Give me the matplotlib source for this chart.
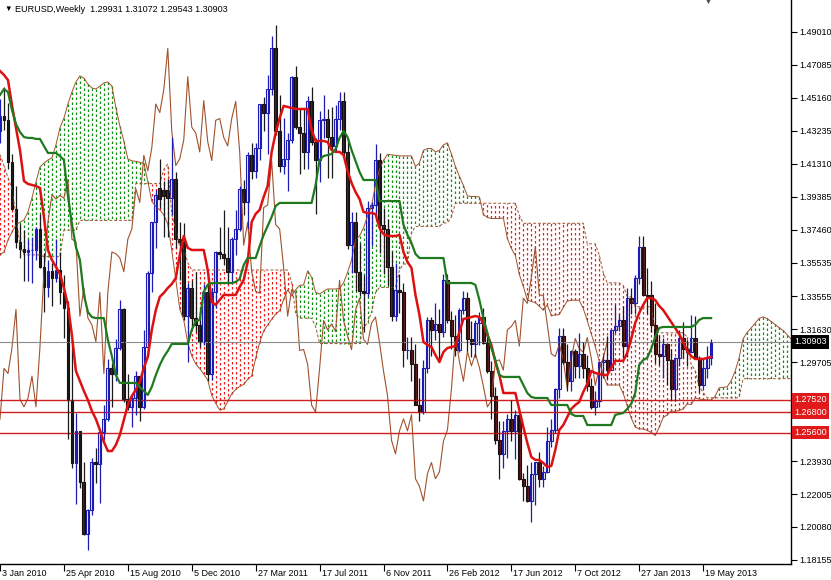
import numpy as np
import matplotlib.pyplot as plt
from matplotlib.transforms import blended_transform_factory, ScaledTranslation

plt.rcParams['font.family'] = ['Liberation Sans', 'DejaVu Sans']

# weekly EURUSD bars, 3 Jan 2010 .. 2 Jun 2013 (one value per week)
opens = [
    1.4320, 1.4410, 1.4385, 1.4140, 1.3865, 1.3675, 1.3630, 1.3615, 1.3625, 1.3625,
    1.3750, 1.3530, 1.3410, 1.3505, 1.3465, 1.3510, 1.3380, 1.3290, 1.2750, 1.2380,
    1.2570, 1.2270, 1.1965, 1.2110, 1.2390, 1.2375, 1.2565, 1.2640, 1.2935, 1.2905,
    1.3055, 1.3280, 1.2755, 1.2710, 1.2760, 1.2890, 1.2710, 1.3060, 1.3495, 1.3790,
    1.3990, 1.3975, 1.3975, 1.3930, 1.4040, 1.3690, 1.3675, 1.3240, 1.3405, 1.3230,
    1.3190, 1.3090, 1.3380, 1.2905, 1.3380, 1.3615, 1.3605, 1.3580, 1.3500, 1.3690,
    1.3750, 1.3985, 1.3905, 1.4180, 1.4090, 1.4225, 1.4480, 1.4430, 1.4565, 1.4805,
    1.4320, 1.4120, 1.4160, 1.4270, 1.4640, 1.4345, 1.4310, 1.4200, 1.4500, 1.4260,
    1.4150, 1.4385, 1.4395, 1.4285, 1.4235, 1.4395, 1.4495, 1.4200, 1.3655, 1.3790,
    1.3500, 1.3385, 1.3375, 1.3875, 1.3890, 1.4150, 1.3775, 1.3750, 1.3525, 1.3240,
    1.3395, 1.3380, 1.3040, 1.3045, 1.2960, 1.2720, 1.2680, 1.2935, 1.3215, 1.3160,
    1.3195, 1.3150, 1.3450, 1.3215, 1.3125, 1.3045, 1.3275, 1.3345, 1.3105, 1.3075,
    1.3200, 1.3235, 1.3085, 1.2920, 1.2775, 1.2515, 1.2435, 1.2570, 1.2640, 1.2570,
    1.2665, 1.2290, 1.2245, 1.2160, 1.2320, 1.2385, 1.2290, 1.2330, 1.2510, 1.2575,
    1.2815, 1.3125, 1.2975, 1.2860, 1.3035, 1.2950, 1.3020, 1.2940, 1.2830, 1.2710,
    1.2745, 1.2975, 1.2985, 1.2925, 1.3160, 1.3180, 1.3215, 1.3065, 1.3345, 1.3315,
    1.3465, 1.3645, 1.3365, 1.3365, 1.3190, 1.3020, 1.3005, 1.3075, 1.2985, 1.2815,
    1.2995, 1.3110, 1.3050, 1.3030, 1.3115, 1.2995, 1.2835, 1.2935, 1.29931,
]
highs = [
    1.4510, 1.4580, 1.4485, 1.4190, 1.4000, 1.3780, 1.3745, 1.3690, 1.3705, 1.3760,
    1.3840, 1.3610, 1.3570, 1.3550, 1.3690, 1.3615, 1.3480, 1.3330, 1.3095, 1.2675,
    1.2570, 1.2385, 1.2115, 1.2410, 1.2470, 1.2570, 1.2720, 1.2990, 1.2965, 1.3105,
    1.3335, 1.3290, 1.2900, 1.2780, 1.2920, 1.2890, 1.3160, 1.3505, 1.3790, 1.3975,
    1.4160, 1.4030, 1.4040, 1.4285, 1.4080, 1.3790, 1.3785, 1.3435, 1.3450, 1.3500,
    1.3285, 1.3430, 1.3435, 1.3405, 1.3620, 1.3760, 1.3860, 1.3760, 1.3700, 1.3860,
    1.4000, 1.4035, 1.4200, 1.4250, 1.4250, 1.4480, 1.4520, 1.4650, 1.4880, 1.4940,
    1.4530, 1.4400, 1.4310, 1.4645, 1.4700, 1.4450, 1.4450, 1.4525, 1.4580, 1.4280,
    1.4440, 1.4530, 1.4450, 1.4460, 1.4475, 1.4550, 1.4550, 1.4280, 1.3850, 1.3850,
    1.3670, 1.3480, 1.3915, 1.3910, 1.4245, 1.4195, 1.3875, 1.3810, 1.3620, 1.3550,
    1.3485, 1.3435, 1.3120, 1.3120, 1.3080, 1.2880, 1.2985, 1.3235, 1.3235, 1.3320,
    1.3280, 1.3485, 1.3485, 1.3270, 1.3245, 1.3290, 1.3385, 1.3380, 1.3210, 1.3215,
    1.3265, 1.3285, 1.3145, 1.2980, 1.2825, 1.2625, 1.2625, 1.2670, 1.2750, 1.2690,
    1.2690, 1.2325, 1.2370, 1.2390, 1.2390, 1.2445, 1.2365, 1.2590, 1.2640, 1.2820,
    1.3170, 1.3170, 1.3080, 1.3045, 1.3050, 1.3140, 1.3090, 1.3015, 1.2880, 1.2800,
    1.2975, 1.3015, 1.3125, 1.3165, 1.3310, 1.3255, 1.3300, 1.3405, 1.3405, 1.3480,
    1.3710, 1.3710, 1.3520, 1.3445, 1.3320, 1.3130, 1.3110, 1.3075, 1.3050, 1.3000,
    1.3160, 1.3205, 1.3100, 1.3245, 1.3240, 1.3010, 1.2995, 1.3065, 1.31072,
]
lows = [
    1.4255, 1.4330, 1.4100, 1.3860, 1.3640, 1.3580, 1.3445, 1.3445, 1.3435, 1.3570,
    1.3520, 1.3265, 1.3350, 1.3300, 1.3440, 1.3310, 1.3115, 1.2520, 1.2355, 1.2145,
    1.2235, 1.1960, 1.1875, 1.2080, 1.2265, 1.2150, 1.2515, 1.2625, 1.2710, 1.2860,
    1.3040, 1.2740, 1.2690, 1.2590, 1.2660, 1.2630, 1.2700, 1.3010, 1.3380, 1.3640,
    1.3875, 1.3700, 1.3700, 1.3830, 1.3640, 1.3450, 1.3215, 1.2970, 1.3170, 1.3150,
    1.3060, 1.3070, 1.2860, 1.2870, 1.3285, 1.3575, 1.3540, 1.3430, 1.3430, 1.3600,
    1.3735, 1.3830, 1.3750, 1.4040, 1.4050, 1.4150, 1.4320, 1.4190, 1.4530, 1.4300,
    1.4080, 1.4070, 1.3970, 1.4255, 1.4335, 1.4070, 1.4100, 1.4100, 1.4240, 1.3835,
    1.4025, 1.4280, 1.4050, 1.4050, 1.4200, 1.4330, 1.4170, 1.3630, 1.3495, 1.3385,
    1.3360, 1.3145, 1.3350, 1.3650, 1.3825, 1.3610, 1.3485, 1.3420, 1.3210, 1.3210,
    1.3260, 1.2945, 1.2990, 1.2860, 1.2720, 1.2625, 1.2670, 1.2910, 1.3005, 1.3100,
    1.2975, 1.3120, 1.3200, 1.3050, 1.3005, 1.3030, 1.3250, 1.3035, 1.3000, 1.3000,
    1.3070, 1.3080, 1.2910, 1.2640, 1.2495, 1.2290, 1.2355, 1.2410, 1.2510, 1.2405,
    1.2285, 1.2160, 1.2155, 1.2040, 1.2135, 1.2240, 1.2240, 1.2325, 1.2475, 1.2560,
    1.2760, 1.2960, 1.2805, 1.2800, 1.2880, 1.2880, 1.2880, 1.2800, 1.2700, 1.2660,
    1.2710, 1.2880, 1.2875, 1.2925, 1.3140, 1.3155, 1.2995, 1.3000, 1.3255, 1.3255,
    1.3430, 1.3360, 1.3255, 1.3145, 1.2965, 1.2955, 1.2880, 1.2840, 1.2750, 1.2745,
    1.2950, 1.2995, 1.2950, 1.3030, 1.2990, 1.2795, 1.2810, 1.2880, 1.29543,
]
closes = [
    1.4410, 1.4385, 1.4140, 1.3865, 1.3675, 1.3630, 1.3615, 1.3625, 1.3625, 1.3750,
    1.3530, 1.3410, 1.3505, 1.3465, 1.3510, 1.3380, 1.3290, 1.2750, 1.2380, 1.2570,
    1.2270, 1.1965, 1.2110, 1.2390, 1.2375, 1.2565, 1.2640, 1.2935, 1.2905, 1.3055,
    1.3280, 1.2755, 1.2710, 1.2760, 1.2890, 1.2710, 1.3060, 1.3495, 1.3790, 1.3950,
    1.3925, 1.3945, 1.3930, 1.4040, 1.3690, 1.3675, 1.3240, 1.3405, 1.3230, 1.3190,
    1.3090, 1.3380, 1.2905, 1.3380, 1.3615, 1.3605, 1.3580, 1.3500, 1.3690, 1.3750,
    1.3985, 1.3905, 1.4180, 1.4090, 1.4225, 1.4480, 1.4430, 1.4565, 1.4805, 1.4320,
    1.4120, 1.4160, 1.4270, 1.4640, 1.4345, 1.4310, 1.4200, 1.4500, 1.4260, 1.4150,
    1.4385, 1.4395, 1.4285, 1.4235, 1.4395, 1.4495, 1.4200, 1.3655, 1.3790, 1.3500,
    1.3385, 1.3375, 1.3875, 1.3890, 1.4150, 1.3775, 1.3750, 1.3525, 1.3240, 1.3395,
    1.3380, 1.3040, 1.3045, 1.2960, 1.2720, 1.2680, 1.2935, 1.3215, 1.3160, 1.3195,
    1.3150, 1.3450, 1.3215, 1.3125, 1.3045, 1.3275, 1.3345, 1.3105, 1.3075, 1.3200,
    1.3235, 1.3085, 1.2920, 1.2775, 1.2515, 1.2435, 1.2570, 1.2640, 1.2570, 1.2665,
    1.2290, 1.2245, 1.2160, 1.2320, 1.2385, 1.2290, 1.2330, 1.2510, 1.2575, 1.2815,
    1.3125, 1.2975, 1.2860, 1.3035, 1.2950, 1.3020, 1.2940, 1.2830, 1.2710, 1.2745,
    1.2975, 1.2985, 1.2925, 1.3160, 1.3180, 1.3215, 1.3065, 1.3345, 1.3315, 1.3465,
    1.3645, 1.3365, 1.3360, 1.3190, 1.3020, 1.3005, 1.3075, 1.2985, 1.2815, 1.2995,
    1.3110, 1.3050, 1.3030, 1.3115, 1.2995, 1.2835, 1.2935, 1.2995, 1.30903,
]

# ichimoku lines
tenkan = [
    1.4673, 1.4650, 1.4620, 1.4474, 1.4340, 1.4211, 1.4030, 1.4013, 1.4007, 1.4001,
    1.3989, 1.3820, 1.3627, 1.3569, 1.3528, 1.3487, 1.3405, 1.3306, 1.3130, 1.2920,
    1.2862, 1.2803, 1.2750, 1.2686, 1.2639, 1.2575, 1.2505, 1.2452, 1.2452, 1.2487,
    1.2546, 1.2633, 1.2721, 1.2774, 1.2809, 1.2856, 1.2938, 1.3002, 1.3160, 1.3276,
    1.3353, 1.3376, 1.3405, 1.3428, 1.3463, 1.3598, 1.3709, 1.3639, 1.3627, 1.3627,
    1.3627, 1.3627, 1.3510, 1.3323, 1.3306, 1.3335, 1.3364, 1.3364, 1.3364, 1.3364,
    1.3411, 1.3452, 1.3557, 1.3791, 1.3838, 1.3861, 1.3937, 1.4001, 1.4200, 1.4311,
    1.4398, 1.4469, 1.4463, 1.4457, 1.4451, 1.4451, 1.4451, 1.4451, 1.4328, 1.4264,
    1.4264, 1.4264, 1.4258, 1.4211, 1.4200, 1.4200, 1.4182, 1.4089, 1.4019, 1.3966,
    1.3925, 1.3849, 1.3843, 1.3843, 1.3837, 1.3755, 1.3720, 1.3709, 1.3709, 1.3709,
    1.3715, 1.3615, 1.3557, 1.3522, 1.3364, 1.3247, 1.3089, 1.3072, 1.3060, 1.3013,
    1.2972, 1.3031, 1.3054, 1.3060, 1.3066, 1.3148, 1.3224, 1.3229, 1.3235, 1.3241,
    1.3235, 1.3200, 1.3130, 1.3072, 1.2972, 1.2896, 1.2791, 1.2791, 1.2791, 1.2791,
    1.2692, 1.2593, 1.2499, 1.2417, 1.2400, 1.2400, 1.2382, 1.2359, 1.2365, 1.2458,
    1.2575, 1.2604, 1.2651, 1.2698, 1.2721, 1.2739, 1.2797, 1.2844, 1.2920, 1.2908,
    1.2902, 1.2896, 1.2896, 1.2938, 1.2979, 1.2979, 1.2979, 1.3025, 1.3107, 1.3200,
    1.3259, 1.3306, 1.3346, 1.3346, 1.3335, 1.3300, 1.3276, 1.3241, 1.3206, 1.3171,
    1.3136, 1.3089, 1.3037, 1.3007, 1.2990, 1.2990, 1.2990, 1.2996, 1.3002,
]
kijun = [
    1.4533, 1.4568, 1.4550, 1.4445, 1.4363, 1.4317, 1.4287, 1.4282, 1.4282, 1.4276,
    1.4276, 1.4235, 1.4194, 1.4194, 1.4194, 1.4176, 1.4153, 1.3943, 1.3779, 1.3645,
    1.3569, 1.3364, 1.3265, 1.3235, 1.3229, 1.3229, 1.3229, 1.3101, 1.3007, 1.2896,
    1.2850, 1.2850, 1.2850, 1.2850, 1.2850, 1.2827, 1.2803, 1.2780, 1.2827, 1.2896,
    1.2955, 1.3002, 1.3037, 1.3078, 1.3078, 1.3078, 1.3078, 1.3078, 1.3160, 1.3212,
    1.3218, 1.3382, 1.3423, 1.3434, 1.3434, 1.3434, 1.3434, 1.3434, 1.3434, 1.3440,
    1.3458, 1.3539, 1.3580, 1.3580, 1.3580, 1.3650, 1.3715, 1.3767, 1.3820, 1.3884,
    1.3902, 1.3902, 1.3902, 1.3902, 1.3902, 1.3902, 1.3902, 1.3902, 1.3902, 1.4007,
    1.4153, 1.4176, 1.4182, 1.4188, 1.4217, 1.4282, 1.4323, 1.4287, 1.4211, 1.4147,
    1.4083, 1.4036, 1.4036, 1.4036, 1.4036, 1.3913, 1.3913, 1.3913, 1.3913, 1.3913,
    1.3913, 1.3773, 1.3715, 1.3668, 1.3604, 1.3580, 1.3580, 1.3580, 1.3580, 1.3580,
    1.3580, 1.3580, 1.3434, 1.3434, 1.3434, 1.3434, 1.3434, 1.3434, 1.3434, 1.3423,
    1.3335, 1.3229, 1.3142, 1.3054, 1.2984, 1.2896, 1.2885, 1.2885, 1.2885, 1.2885,
    1.2885, 1.2838, 1.2791, 1.2768, 1.2762, 1.2762, 1.2762, 1.2762, 1.2721, 1.2721,
    1.2721, 1.2721, 1.2721, 1.2669, 1.2657, 1.2657, 1.2657, 1.2604, 1.2604, 1.2604,
    1.2604, 1.2604, 1.2604, 1.2604, 1.2663, 1.2669, 1.2674, 1.2698, 1.2727, 1.2791,
    1.2955, 1.2984, 1.2996, 1.3049, 1.3119, 1.3171, 1.3177, 1.3177, 1.3177, 1.3177,
    1.3177, 1.3177, 1.3177, 1.3177, 1.3189, 1.3218, 1.3229, 1.3229, 1.3229,
]
# senkou spans, already placed 26 weeks ahead (205 weeks)
span_a = [
    1.3598, 1.3615, 1.3685, 1.3732, 1.3773, 1.3790, 1.3802, 1.3849, 1.3931, 1.4024,
    1.4112, 1.4135, 1.4153, 1.4165, 1.4241, 1.4340, 1.4398, 1.4480, 1.4550, 1.4609,
    1.4644, 1.4632, 1.4597, 1.4574, 1.4568, 1.4585,
    1.4603, 1.4609, 1.4585, 1.4460, 1.4352, 1.4264, 1.4159, 1.4148, 1.4145, 1.4139,
    1.4133, 1.4028, 1.3911, 1.3882, 1.3861, 1.3832, 1.3779, 1.3625, 1.3455, 1.3283,
    1.3216, 1.3084, 1.3008, 1.2961, 1.2934, 1.2902, 1.2867, 1.2777, 1.2730, 1.2692,
    1.2698, 1.2742, 1.2786, 1.2812, 1.2830, 1.2842, 1.2871, 1.2891, 1.2994, 1.3086,
    1.3154, 1.3189, 1.3221, 1.3253, 1.3271, 1.3338, 1.3394, 1.3359, 1.3394, 1.3420,
    1.3423, 1.3505, 1.3467, 1.3379, 1.3370, 1.3385, 1.3399, 1.3399, 1.3399, 1.3402,
    1.3435, 1.3496, 1.3569, 1.3686, 1.3709, 1.3756, 1.3826, 1.3884, 1.4010, 1.4098,
    1.4150, 1.4186, 1.4183, 1.4180, 1.4177, 1.4177, 1.4177, 1.4177, 1.4115, 1.4136,
    1.4209, 1.4220, 1.4220, 1.4200, 1.4209, 1.4241, 1.4253, 1.4188, 1.4115, 1.4057,
    1.4004, 1.3943, 1.3940, 1.3940, 1.3937, 1.3834, 1.3817, 1.3811, 1.3811, 1.3811,
    1.3814, 1.3694, 1.3636, 1.3595, 1.3484, 1.3414, 1.3335, 1.3326, 1.3320, 1.3297,
    1.3276, 1.3306, 1.3244, 1.3247, 1.3250, 1.3291, 1.3329, 1.3332, 1.3335, 1.3332,
    1.3285, 1.3215, 1.3136, 1.3063, 1.2978, 1.2896, 1.2838, 1.2838, 1.2838, 1.2838,
    1.2789, 1.2716, 1.2645, 1.2593, 1.2581, 1.2581, 1.2572, 1.2561, 1.2543, 1.2590,
    1.2648, 1.2663, 1.2686, 1.2684, 1.2689, 1.2698, 1.2727, 1.2724, 1.2762, 1.2756,
    1.2753, 1.2750, 1.2750, 1.2771, 1.2821, 1.2824, 1.2827, 1.2862, 1.2917, 1.2996,
    1.3107, 1.3145, 1.3171, 1.3198, 1.3227, 1.3236, 1.3227, 1.3209, 1.3192, 1.3174,
    1.3157, 1.3133, 1.3107, 1.3098, 1.3104, 1.3110, 1.3110, 1.3113, 1.3116,
]
span_b = [
    1.4184, 1.4120, 1.4050, 1.3985, 1.3825, 1.3655, 1.3598, 1.3598, 1.3598, 1.3598,
    1.3598, 1.3588, 1.3588, 1.3588, 1.3588, 1.3588, 1.3743, 1.3743, 1.3743, 1.3743,
    1.3800, 1.3800, 1.3800, 1.3800, 1.3800, 1.3800, 1.3800, 1.3800, 1.3800, 1.3800,
    1.3800, 1.3800, 1.3800, 1.3800, 1.4015, 1.4015, 1.4015, 1.4015, 1.4015, 1.4015,
    1.4015, 1.4098, 1.4130, 1.3833, 1.3750, 1.3645, 1.3645, 1.3553, 1.3510, 1.3510,
    1.3510, 1.3510, 1.3510, 1.3510, 1.3510, 1.3510, 1.3510, 1.3510, 1.3510, 1.3510,
    1.3510, 1.3510, 1.3510, 1.3510, 1.3510, 1.3510, 1.3510, 1.3510, 1.3510, 1.3510,
    1.3510, 1.3510, 1.3510, 1.3440, 1.3253, 1.3228, 1.3228, 1.3228, 1.3228, 1.3180,
    1.3080, 1.3080, 1.3080, 1.3080, 1.3080, 1.3080, 1.3080, 1.3080, 1.3080, 1.3080,
    1.3080, 1.3178, 1.3198, 1.3263, 1.3378, 1.3408, 1.3408, 1.3408, 1.3408, 1.3408,
    1.3510, 1.3545, 1.3545, 1.3728, 1.3765, 1.3765, 1.3765, 1.3765, 1.3765, 1.3765,
    1.3765, 1.3785, 1.3785, 1.3820, 1.3900, 1.3900, 1.3900, 1.3900, 1.3900, 1.3900,
    1.3900, 1.3900, 1.3900, 1.3900, 1.3900, 1.3900, 1.3900, 1.3900, 1.3900, 1.3900,
    1.3830, 1.3783, 1.3783, 1.3783, 1.3783, 1.3783, 1.3783, 1.3783, 1.3783, 1.3783,
    1.3783, 1.3783, 1.3783, 1.3783, 1.3783, 1.3783, 1.3783, 1.3663, 1.3663, 1.3663,
    1.3598, 1.3495, 1.3435, 1.3435, 1.3435, 1.3435, 1.3420, 1.3355, 1.3353, 1.3295,
    1.3295, 1.3295, 1.3295, 1.3295, 1.3160, 1.3143, 1.3143, 1.3143, 1.3143, 1.3143,
    1.3143, 1.3143, 1.3118, 1.2958, 1.2925, 1.2830, 1.2795, 1.2763, 1.2763, 1.2763,
    1.2763, 1.2763, 1.2763, 1.2763, 1.2763, 1.2763, 1.2875, 1.2875, 1.2875, 1.2875,
    1.2875, 1.2875, 1.2875, 1.2875, 1.2875, 1.2875, 1.2875, 1.2875, 1.2875, 1.2875,
    1.2875, 1.2875, 1.2875, 1.2875, 1.2875,
]

date_bars = [0, 16, 32, 48, 64, 80, 96, 112, 128, 144, 160, 176]
date_labels = ['3 Jan 2010', '25 Apr 2010', '15 Aug 2010', '5 Dec 2010', '27 Mar 2011',
               '17 Jul 2011', '6 Nov 2011', '26 Feb 2012', '17 Jun 2012', '7 Oct 2012',
               '27 Jan 2013', '19 May 2013']
price_ticks = [1.49010, 1.47085, 1.45160, 1.43235, 1.41310, 1.39385, 1.37460, 1.35535,
               1.33555, 1.31630, 1.29705, 1.27780, 1.25855, 1.23930, 1.22005, 1.20080, 1.18155]
# scale labels that sit under the price tags
hidden_ticks = [1.27780, 1.25855]
level_lines = [1.27520, 1.26800, 1.25600]
last_price = 1.30903
chikou_shift = 26

bars = np.arange(len(closes))
cloud_bars = np.arange(len(span_a))
o, h, l, c = (np.array(v) for v in (opens, highs, lows, closes))
a, b = np.array(span_a), np.array(span_b)

fig = plt.figure(figsize=(8.31, 5.80), dpi=100)
ax = fig.add_axes([0, 16 / 580, 791 / 831, 564 / 580])
ax.set_xlim(0.25, 198)
ax.set_ylim(1.17917, 1.50880)

# kumo: dotted vertical hatching per week
kumo_col = np.where(a >= b, '#0f8f0f', '#f01c1c')
ax.vlines(cloud_bars, a, b, colors=kumo_col, linestyles=(0, (2, 2)), linewidth=0.9)
ax.plot(cloud_bars, a, color='#a0522d', lw=0.7)
ax.plot(cloud_bars, b, color='#a0522d', lw=0.7, ls=(0, (3, 2)))

# chikou span
ax.plot(bars - chikou_shift, closes, color='#a0522d', lw=0.8)

# levels
ax.axhline(last_price, color='#8c8c8c', lw=0.8)
for lv in level_lines:
    ax.axhline(lv, color='#cc1f1f', lw=1.0)

# candles
up = c >= o
body = np.maximum(np.abs(c - o), 0.0004)
bottom = np.minimum(o, c)
ax.vlines(bars[up], l[up], h[up], color='#1c1cb4', lw=0.9)
ax.vlines(bars[~up], l[~up], h[~up], color='#1a1a1a', lw=0.9)
ax.bar(bars[up], body[up], bottom=bottom[up], width=0.7,
       facecolor='white', edgecolor='#1c1cb4', lw=0.8)
ax.bar(bars[~up], body[~up], bottom=bottom[~up], width=0.7,
       facecolor='#6b1c1c', edgecolor='#1a0a0a', lw=0.8)

# tenkan / kijun
ax.plot(bars, tenkan, color='#dd1111', lw=1.8)
ax.plot(bars, kijun, color='#1f7a1f', lw=1.6)

# axes look
for s in ['top', 'left']:
    ax.spines[s].set_visible(False)
ax.spines['right'].set_linewidth(1.0)
ax.spines['bottom'].set_linewidth(1.0)
ax.yaxis.tick_right()
ax.set_yticks(price_ticks)
ax.set_yticklabels(['' if p in hidden_ticks else f'{p:.5f}' for p in price_ticks])
ax.tick_params(axis='y', length=4, width=0.8, labelsize=6.5, pad=2)
ax.set_xticks(date_bars)
ax.set_xticklabels([])
ax.tick_params(axis='x', length=5, width=0.8)

date_trans = blended_transform_factory(ax.transData, ax.transAxes) + \
    ScaledTranslation(2 / 100, -5 / 100, fig.dpi_scale_trans)
for x, lab in zip(date_bars, date_labels):
    ax.text(x, 0, lab, transform=date_trans, ha='left', va='top',
            fontsize=6.5, clip_on=False)

# price tags on the right scale
tag_trans = blended_transform_factory(ax.transAxes, ax.transData) + \
    ScaledTranslation(3 / 100, 0, fig.dpi_scale_trans)
for p, fc in [(last_price, 'black')] + [(lv, '#e01a1a') for lv in level_lines]:
    ax.text(1.0, p, f'{p:.5f}', transform=tag_trans, ha='left', va='center',
            fontsize=6.5, color='white', clip_on=False,
            bbox=dict(boxstyle='square,pad=0.25', fc=fc, ec='none'))

# header
fig.text(4 / 831, 1 - 9 / 580, '▼', fontsize=5.5, va='center', ha='left')
fig.text(15 / 831, 1 - 9 / 580, 'EURUSD,Weekly  1.29931 1.31072 1.29543 1.30903',
         fontsize=6.5, va='center', ha='left')
fig.text(708 / 831, 1 - 2 / 580, '▼', fontsize=5, va='center', ha='center', color='#505050')

fig.savefig('out.png', dpi=100)
